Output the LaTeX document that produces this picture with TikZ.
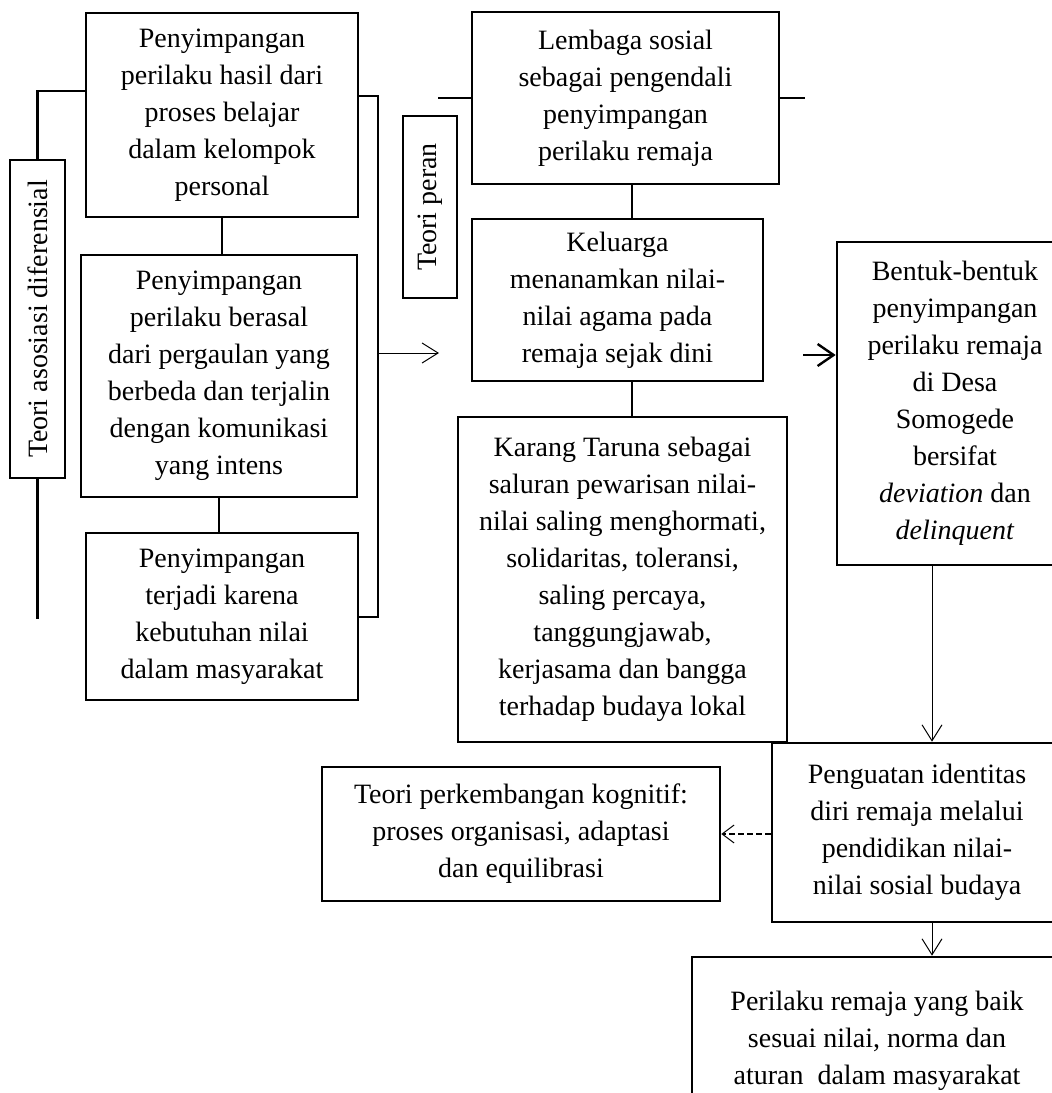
\documentclass[tikz,border=0pt]{standalone}
\usepackage{fontspec}
\setmainfont{Liberation Serif}
\usetikzlibrary{arrows.meta}

\begin{document}
\begin{tikzpicture} [x=0.5pt, y=-0.5pt,
kotak/.style={draw, line width=1.3pt, align=center, inner sep=2pt, font=\fontsize{14}{18.5}\selectfont},
tegak/.style={kotak, rotate=90},
garis/.style={line width=1.3pt},
hubung/.style={line width=0.7pt},
panah/.style={line width=0.5pt, -{Straight Barb[length=8pt, width=10pt]}},
panahtebal/.style={line width=1.2pt, -{Straight Barb[length=8pt, width=11pt]}},
putus/.style={line width=1.3pt, dash pattern=on 3pt off 1.5pt, -{Straight Barb[length=6pt, width=9pt, line width=0.5pt]}}]
\useasboundingbox (0,0) rectangle (1052,1093);
\node[kotak, minimum width=136pt, minimum height=102pt](p1) at (222,115){Penyimpangan\\ perilaku hasil dari\\ proses belajar\\ dalam kelompok\\ personal};
\node[kotak, minimum width=138pt, minimum height=121pt](p2) at (219,376){Penyimpangan\\ perilaku berasal\\ dari pergaulan yang\\ berbeda dan terjalin\\ dengan komunikasi\\ yang intens};
\node[kotak, minimum width=136pt, minimum height=83.5pt](p3) at (222,616.5){Penyimpangan\\ terjadi karena\\ kebutuhan nilai\\ dalam masyarakat};
\node[tegak, minimum width=159pt, minimum height=27.5pt](asosiasi) at (37.5,319){Teori asosiasi diferensial};
\node[tegak, minimum width=91pt, minimum height=27pt](peran) at (430,207){Teori peran};
\node[kotak, minimum width=153.5pt, minimum height=86pt](b1) at (625.5,98){Lembaga sosial\\ sebagai pengendali\\ penyimpangan\\ perilaku remaja};
\node[kotak, minimum width=145.5pt, minimum height=81pt](b2) at (617.5,300){Keluarga\\ menanamkan nilai-\\ nilai agama pada\\ remaja sejak dini};
\node[kotak, minimum width=164.5pt, minimum height=162.5pt](b3) at (622.5,579.5){Karang Taruna sebagai\\ saluran pewarisan nilai-\\ nilai saling menghormati,\\ solidaritas, toleransi,\\ saling percaya,\\ tanggungjawab,\\ kerjasama dan bangga\\ terhadap budaya lokal};
\node[kotak, minimum width=118pt, minimum height=161.5pt](c) at (955,403.5){Bentuk-bentuk\\ penyimpangan\\ perilaku remaja\\ di Desa\\ Somogede\\ bersifat\\ \textit{deviation} dan\\ \textit{delinquent}};
\node[kotak, minimum width=145pt, minimum height=89.5pt](d) at (917,832.5){Penguatan identitas\\ diri remaja melalui\\ pendidikan nilai-\\ nilai sosial budaya};
\node[kotak, minimum width=199pt, minimum height=67pt](e) at (521,834){Teori perkembangan kognitif:\\ proses organisasi, adaptasi\\ dan equilibrasi};
\node[kotak, minimum width=185pt, minimum height=84pt](f) at (877,1041){Perilaku remaja yang baik\\ sesuai nilai, norma dan\\ aturan\ \ dalam masyarakat};
\coordinate (ka) at (378,96);
\coordinate (kb) at (378,617);
\coordinate (kc) at (378,353);
\coordinate (kd) at (439,353);
\coordinate (la) at (438,98);
\coordinate (lb) at (805,98);
\coordinate (m) at (632,0);
\coordinate (ca) at (803,355);
\coordinate (cd) at (932,0);
\draw[garis] (asosiasi.east) -- (asosiasi.east |- 0,91) -- (p1.west |- 0,91);
\draw[garis] (asosiasi.west) -- (asosiasi.west |- 0,619);
\draw[hubung] (p1.south) -- (p1.south |- p2.north);
\draw[hubung] (p2.south) -- (p2.south |- p3.north);
\draw[garis] (p1.east |- ka) -- (ka) -- (kb) -- (p3.east |- kb);
\draw[panah] (kc) -- (kd);
\draw[hubung] (la) -- (b1.west);
\draw[garis] (b1.east) -- (lb);
\draw[hubung] (b1.south -| m) -- (b2.north -| m);
\draw[hubung] (b2.south -| m) -- (b3.north -| m);
\draw[panahtebal] (ca) -- (c.west |- ca);
\draw[panah] (c.south -| cd) -- (d.north -| cd);
\draw[panah] (d.south -| cd) -- (f.north -| cd);
\draw[putus] (d.west |- e.east) -- (e.east);
\end{tikzpicture}
\end{document}
